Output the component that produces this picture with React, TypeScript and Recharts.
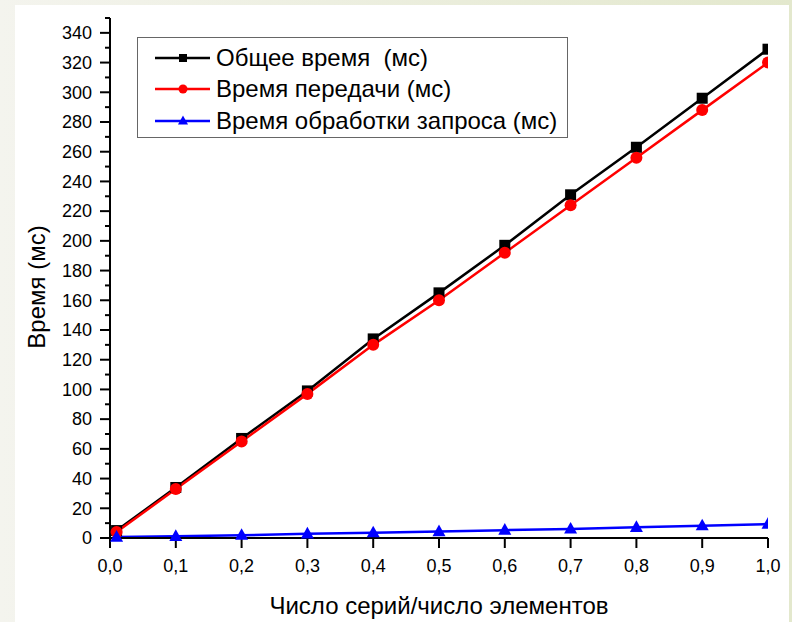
import { LineChart, Line, XAxis, YAxis, Legend } from "recharts";

// доля серий (ось X)
const xValues = [0.01, 0.1, 0.2, 0.3, 0.4, 0.5, 0.6, 0.7, 0.8, 0.9, 1.0];
const totalTime = [5, 34, 67, 99, 134, 165, 197, 231, 263, 296, 329];
const transferTime = [4, 33, 65, 97, 130, 160, 192, 224, 256, 288, 320];
const processingTime = [0.6, 1.1, 1.9, 2.8, 3.6, 4.4, 5.3, 6.1, 7.2, 8.3, 9.4];

const xTicks = [0, 0.1, 0.2, 0.3, 0.4, 0.5, 0.6, 0.7, 0.8, 0.9, 1.0];
const yTicks = [
  0, 10, 20, 30, 40, 50, 60, 70, 80, 90, 100, 110, 120, 130, 140, 150, 160, 170,
  180, 190, 200, 210, 220, 230, 240, 250, 260, 270, 280, 290, 300, 310, 320, 330,
  340, 350,
];

const seriesNames = [
  "Общее время  (мс)",
  "Время передачи (мс)",
  "Время обработки запроса (мс)",
];

const data = xValues.map((x, i) => ({
  x,
  total: totalTime[i],
  transfer: transferTime[i],
  processing: processingTime[i],
}));

const FONT = "'Liberation Sans', Arial, sans-serif";
const W = 792;
const H = 622;

const fmt = (v: number) => v.toFixed(1).replace(".", ",");

const marker = (kind: string, color: string, cx: number, cy: number, s: number) => {
  if (kind === "square")
    return <rect x={cx - s / 2} y={cy - s / 2} width={s} height={s} fill={color} />;
  if (kind === "circle") return <circle cx={cx} cy={cy} r={s / 2} fill={color} />;
  const h = s * 0.9;
  return (
    <polygon
      points={`${cx},${cy - h * 0.6} ${cx - s / 2},${cy + h * 0.4} ${cx + s / 2},${cy + h * 0.4}`}
      fill={color}
    />
  );
};

const series = [
  { key: "total", name: seriesNames[0], color: "#000000", kind: "square", size: 11 },
  { key: "transfer", name: seriesNames[1], color: "#ff0000", kind: "circle", size: 12 },
  { key: "processing", name: seriesNames[2], color: "#0000ff", kind: "triangle", size: 13 },
];

const YTick = (props: any) => {
  const { x, y, payload } = props;
  const v = payload.value;
  const major = v % 20 === 0;
  const axisX = x + 18;
  return (
    <g>
      <line x1={axisX - (major ? 10 : 5)} x2={axisX} y1={y} y2={y} stroke="#000" strokeWidth={2} />
      {major && (
        <text x={x} y={y} dy="0.35em" textAnchor="end" fontSize={18} fontFamily={FONT} fill="#000">
          {v}
        </text>
      )}
    </g>
  );
};

const LegendBox = () => (
  <div
    style={{
      border: "1px solid #666",
      background: "#fff",
      width: 431,
      height: 101,
      boxSizing: "border-box",
      paddingTop: 4,
    }}
  >
    {series.map((s) => (
      <div key={s.key} style={{ display: "flex", alignItems: "center", height: 31.5 }}>
        <svg width={78} height={20} style={{ flex: "none" }}>
          <line x1={17} x2={72} y1={10} y2={10} stroke={s.color} strokeWidth={2.5} />
          {marker(s.kind, s.color, 45, 10, s.size - 3)}
        </svg>
        <span style={{ fontFamily: FONT, fontSize: 24, color: "#000", whiteSpace: "pre", lineHeight: 1 }}>
          {s.name}
        </span>
      </div>
    ))}
  </div>
);

export default function App() {
  return (
    <div
      style={{
        position: "absolute",
        left: 0,
        top: 0,
        width: W,
        height: H,
        background: "linear-gradient(to right, #f4f4ee, #e3e8cd)",
        overflow: "hidden",
      }}
    >
      <div
        style={{ position: "absolute", left: 15, top: 5, width: 774, height: 617, background: "#fff" }}
      />
      <div style={{ position: "absolute", left: 0, top: 0 }}>
        <LineChart width={W} height={H} data={data} margin={{ top: 18, right: 24, left: 0, bottom: 0 }}>
          <XAxis
            dataKey="x"
            type="number"
            domain={[0, 1]}
            allowDataOverflow
            ticks={xTicks}
            tickFormatter={fmt}
            height={84}
            tickSize={10}
            tickMargin={11}
            tick={{ fontSize: 18, fontFamily: FONT, fill: "#000" }}
            axisLine={{ stroke: "#000", strokeWidth: 2 }}
            tickLine={{ stroke: "#000", strokeWidth: 2 }}
            label={{
              value: "Число серий/число элементов",
              position: "insideBottom",
              offset: 8,
              fontSize: 24,
              fontFamily: FONT,
              fill: "#000",
            }}
          />
          <YAxis
            type="number"
            domain={[0, 350]}
            ticks={yTicks}
            interval={0}
            width={110}
            tickSize={10}
            tickMargin={8}
            tick={<YTick />}
            tickLine={false}
            axisLine={{ stroke: "#000", strokeWidth: 2 }}
            label={{
              value: "Время (мс)",
              content: () => (
                <text
                  x={36}
                  y={287}
                  transform="rotate(-90 36 287)"
                  textAnchor="middle"
                  dominantBaseline="central"
                  fontSize={24}
                  fontFamily={FONT}
                  fill="#000"
                >
                  Время (мс)
                </text>
              ),
            }}
          />
          <Legend
            layout="vertical"
            align="center"
            verticalAlign="middle"
            content={<LegendBox />}
            wrapperStyle={{ left: 137, top: 37, width: "auto", height: "auto" }}
          />
          {series.map((s) => (
            <Line
              key={s.key}
              dataKey={s.key}
              name={s.name}
              type="linear"
              stroke={s.color}
              strokeWidth={2.5}
              isAnimationActive={false}
              dot={(p: any) => <g key={`${s.key}-${p.index}`}>{marker(s.kind, s.color, p.cx, p.cy, s.size)}</g>}
              activeDot={false}
            />
          ))}
        </LineChart>
      </div>
    </div>
  );
}
